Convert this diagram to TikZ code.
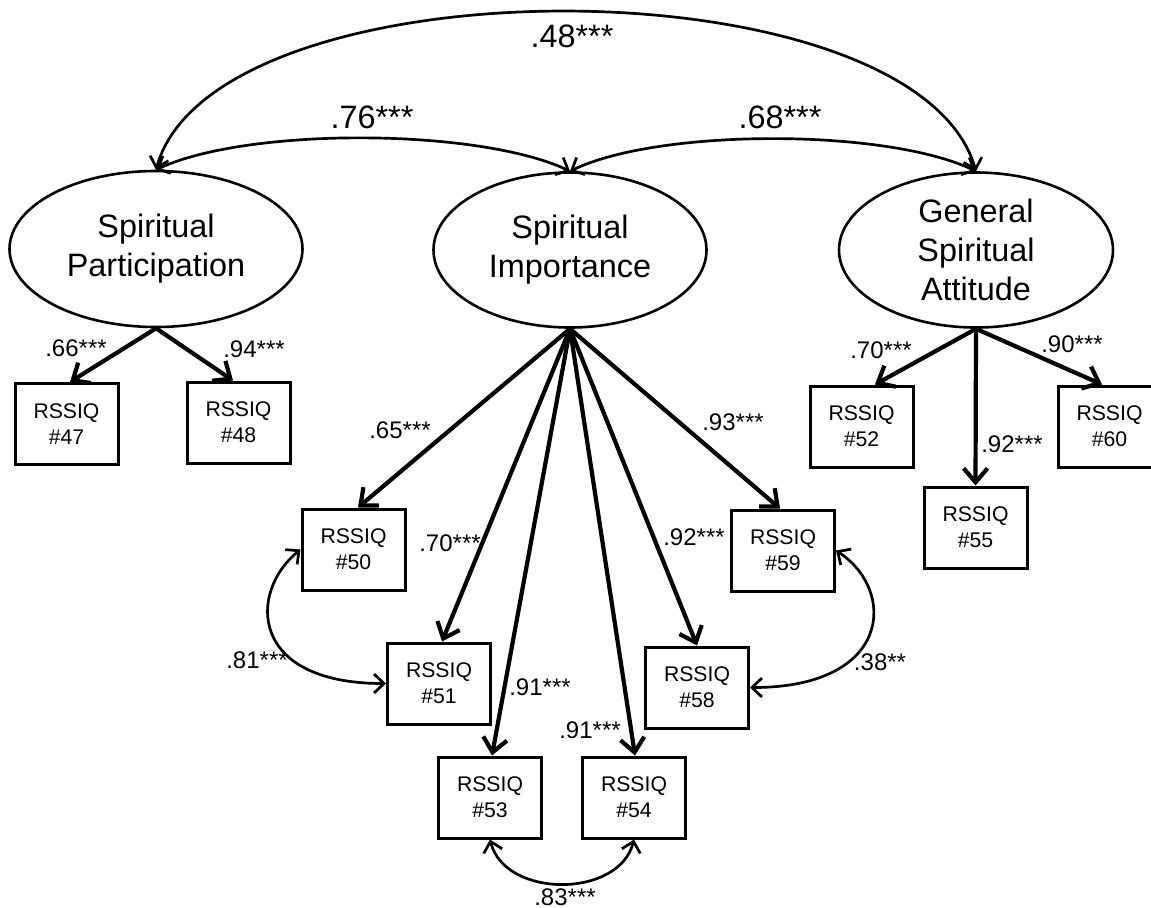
\documentclass[tikz,border=0pt]{standalone}
\usepackage{fontspec}
\setmainfont{Liberation Sans}
\usetikzlibrary{arrows.meta,shapes.geometric}

\tikzset{
  latent/.style={draw, ellipse, line width=1.3pt, inner sep=0pt, align=center,
    font=\fontsize{16.2}{19.5}\selectfont},
  item/.style={draw, rectangle, line width=1.5pt, minimum width=51.5pt,
    minimum height=40.5pt, inner sep=0pt, align=center,
    font=\fontsize{10.6}{13}\selectfont},
  load/.style={line width=2.1pt, -{Straight Barb[length=7pt,width=12pt]}},
  cov/.style={line width=1.35pt,
    {Straight Barb[length=5pt,width=9.5pt]}-{Straight Barb[length=5pt,width=9.5pt]}},
  coef/.style={anchor=base, inner sep=0pt, font=\fontsize{12}{14}\selectfont},
  bigcoef/.style={coef, font=\fontsize{16.2}{19.5}\selectfont}
}

\begin{document}
\begin{tikzpicture}[x=0.5pt, y=-0.5pt]
  \useasboundingbox (0,0) rectangle (1151,907);

  % latent factors
  \node[latent, minimum width=146.5pt, minimum height=78pt] (sp) at (156,249) {Spiritual\\Participation};
  \node[latent, minimum width=136.5pt, minimum height=77.5pt] (si) at (570,250) {Spiritual\\Importance};
  \node[latent, minimum width=137pt, minimum height=77.5pt] (gsa) at (976,250) {General\\Spiritual\\Attitude};

  % items
  \node[item] (i47) at (66.5,424) {RSSIQ\\\#47};
  \node[item] (i48) at (238.5,422.5) {RSSIQ\\\#48};
  \node[item] (i50) at (353.5,549.5) {RSSIQ\\\#50};
  \node[item] (i51) at (439,683.5) {RSSIQ\\\#51};
  \node[item] (i53) at (490,797.5) {RSSIQ\\\#53};
  \node[item] (i54) at (634,797.5) {RSSIQ\\\#54};
  \node[item] (i58) at (697,687.5) {RSSIQ\\\#58};
  \node[item] (i59) at (783,550.5) {RSSIQ\\\#59};
  \node[item] (i52) at (861.5,426.5) {RSSIQ\\\#52};
  \node[item] (i55) at (975.5,527.5) {RSSIQ\\\#55};
  \node[item] (i60) at (1109.5,426.5) {RSSIQ\\\#60};

  % loadings
  \draw[load] (sp.south) -- ([xshift=1.75pt]i47.north);
  \draw[load] (sp.south) -- ([xshift=-2.75pt]i48.north);
  \foreach \b/\s in {i50/2.25pt, i51/1.5pt, i53/1pt, i54/0.5pt, i58/0pt, i59/-1.5pt}
    \draw[load] (si.south) -- ([xshift=\s]\b.north);
  \draw[load] (gsa.south) -- ([xshift=6.75pt]i52.north);
  \draw[load] (gsa.south) -- (i55.north);
  \draw[load] (gsa.south) -- ([xshift=-3.75pt]i60.north);

  % covariances
  \draw[cov] (sp.north) .. controls +(59,-211) and +(-61,-212) .. (gsa.north);
  \draw[cov] (si.north) .. controls +(-91,-43) and +(93,-43) .. (sp.north);
  \draw[cov] (si.north) .. controls +(89,-43) and +(-90,-43) .. (gsa.north);
  \draw[cov] (i50.west) .. controls +(-52,42) and +(-138,0) .. (i51.west);
  \draw[cov] (i59.east) .. controls +(61,40) and +(142,0) .. (i58.east);
  \draw[cov] (i53.south) .. controls +(15,59) and +(-15,59) .. (i54.south);

  % coefficients
  \node[bigcoef] (c48) at (572,47) {.48***};
  \node[bigcoef] (c76) at (372,128) {.76***};
  \node[bigcoef] (c68) at (780,128) {.68***};
  \node[coef] (c66) at (76,356) {.66***};
  \node[coef] (c94) at (254,357) {.94***};
  \node[coef] (c65) at (400,438) {.65***};
  \node[coef] (c70a) at (450,551) {.70***};
  \node[coef] (c91a) at (540,695) {.91***};
  \node[coef] (c91b) at (590,738) {.91***};
  \node[coef] (c92a) at (694,545) {.92***};
  \node[coef] (c93) at (733,430) {.93***};
  \node[coef] (c81) at (257,668) {.81***};
  \node[coef] (c38) at (880,670) {.38**};
  \node[coef] (c83) at (565,905) {.83***};
  \node[coef] (c70b) at (881,358) {.70***};
  \node[coef] (c90) at (1072,352) {.90***};
  \node[coef] (c92b) at (1012,452) {.92***};
\end{tikzpicture}
\end{document}
